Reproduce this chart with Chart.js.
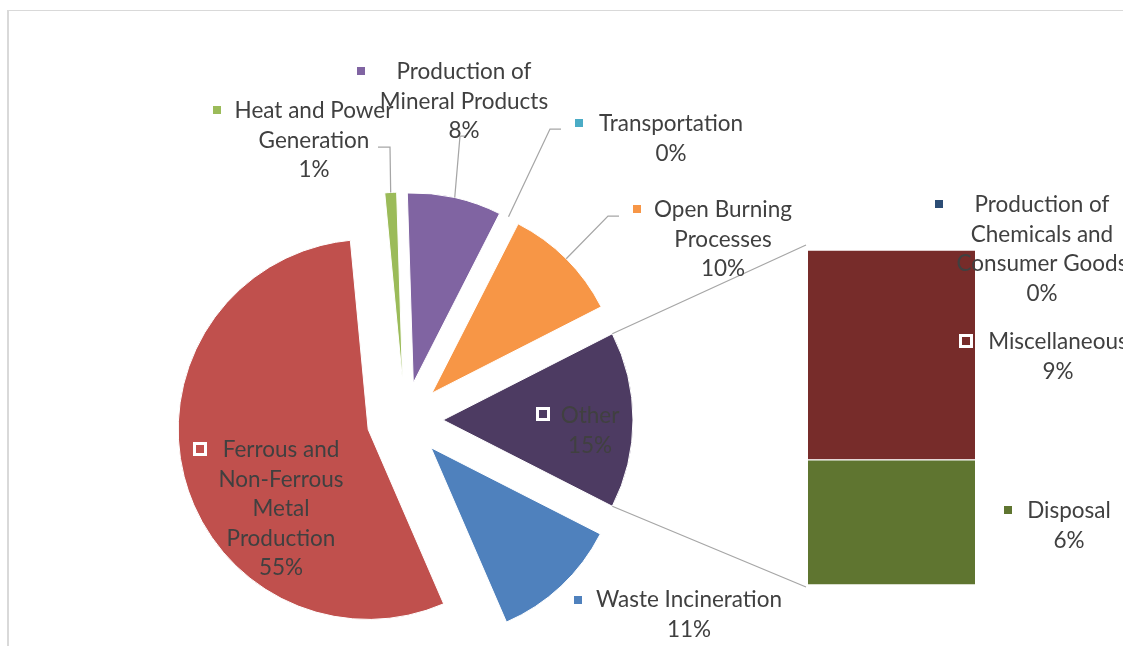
<!DOCTYPE html>
<html>
<head>
<meta charset="utf-8">
<script src="https://cdn.jsdelivr.net/npm/chart.js@4.4.0/dist/chart.umd.min.js"></script>
<style>
  body { margin: 0; background: #fff; width: 1123px; height: 646px; overflow: hidden; position: relative; }
  #frame { position: absolute; left: 7px; top: 10px; width: 1200px; height: 700px; border-left: 2px solid #d9d9d9; border-top: 1px solid #d9d9d9; }
  #bar { position: absolute; left: 808px; top: 250px; }
  #pie { position: absolute; left: 0; top: 0; }
</style>
</head>
<body>
<div id="frame"></div>
<canvas id="bar" width="167" height="335"></canvas>
<canvas id="pie" width="1123" height="646"></canvas>
<script>
// pie slices, clockwise from the Waste Incineration slice
const categories = ['Waste Incineration', 'Ferrous and Non-Ferrous Metal Production', 'Heat and Power Generation',
  'Production of Mineral Products', 'Transportation', 'Open Burning Processes'];
const values = [11, 55, 1, 8, 0, 10];
const pieColors = ['#4F81BD', '#C0504D', '#9BBB59', '#8064A2', '#4BACC6', '#F79646', '#4D3B62'];

// breakdown of "Other" (bar, bottom to top)
const otherCategories = ['Disposal', 'Miscellaneous', 'Production of Chemicals and Consumer Goods'];
const otherValues = [5.6, 9.4, 0];
const otherColors = ['#5F7530', '#772C2A', '#2C4D75'];

const otherTotal = otherValues.reduce((a, b) => a + b, 0);
const pieLabels = categories.concat(['Other']);
const pieData = values.concat([otherTotal]);
const total = pieData.reduce((a, b) => a + b, 0);

// where each data label sits (wrap = words per line)
const labelLayout = {
  'Waste Incineration': { cx: 689, y: 600, mx: 578, my: 600, wrap: [2] },
  'Ferrous and Non-Ferrous Metal Production': { cx: 281, y: 450, mx: 200, my: 449, wrap: [2, 1, 1, 1] },
  'Heat and Power Generation': { cx: 314, y: 111, mx: 217, my: 110, wrap: [3, 1], leader: [[378, 147], [390, 147]] },
  'Production of Mineral Products': { cx: 464, y: 72, mx: 361, my: 71, wrap: [2, 2], leader: [[466, 136], [460, 136]] },
  'Transportation': { cx: 671, y: 124, mx: 579, my: 123, wrap: [1], leader: [[561, 129], [550, 129]] },
  'Open Burning Processes': { cx: 723, y: 210, mx: 637, my: 209, wrap: [2, 1], leader: [[619, 216], [608, 216]] },
  'Other': { cx: 590, y: 416, mx: 543, my: 414, wrap: [1] },
  'Production of Chemicals and Consumer Goods': { cx: 1042, y: 205, mx: 939, my: 204, wrap: [2, 2, 2] },
  'Miscellaneous': { cx: 1058, y: 342, mx: 966, my: 341, wrap: [1] },
  'Disposal': { cx: 1069, y: 511, mx: 1008, my: 510, wrap: [1] }
};

const barChart = new Chart(document.getElementById('bar'), {
  type: 'bar',
  data: {
    labels: ['Other'],
    datasets: otherCategories.map((c, i) => ({
      label: c,
      data: [otherValues[i]],
      backgroundColor: otherColors[i],
      borderColor: '#fff',
      borderWidth: { top: 1, bottom: 1, left: 0, right: 0 },
      borderSkipped: false,
      barPercentage: 1,
      categoryPercentage: 1
    }))
  },
  options: {
    responsive: false,
    animation: false,
    devicePixelRatio: 1,
    layout: { padding: 0 },
    scales: {
      x: { display: false, stacked: true },
      y: { display: false, stacked: true, min: 0, max: otherTotal }
    },
    plugins: { legend: { display: false }, tooltip: { enabled: false } }
  }
});

const explodePlugin = {
  id: 'explode',
  beforeDatasetDraw(chart, args) {
    const ctx = chart.ctx;
    args.meta.data.forEach(arc => {
      const mid = (arc.startAngle + arc.endAngle) / 2;
      const d = arc.outerRadius * 0.2;
      ctx.save();
      ctx.translate(Math.cos(mid) * d, Math.sin(mid) * d);
      arc.draw(ctx);
      ctx.restore();
    });
    return false;
  }
};

function edgePoint(arc, angle) {
  const mid = (arc.startAngle + arc.endAngle) / 2;
  const d = arc.outerRadius * 0.2;
  return [arc.x + Math.cos(mid) * d + Math.cos(angle) * arc.outerRadius,
          arc.y + Math.sin(mid) * d + Math.sin(angle) * arc.outerRadius];
}

function drawLabel(ctx, name, value, color) {
  const L = labelLayout[name];
  if (!L) return;
  const words = name.split(' ');
  const lines = [];
  let k = 0;
  L.wrap.forEach(n => { lines.push(words.slice(k, k + n).join(' ')); k += n; });
  lines.push(Math.round(value / total * 100) + '%');
  ctx.fillStyle = '#fff';
  ctx.fillRect(L.mx - 7, L.my - 7, 14, 14);
  ctx.fillStyle = color;
  ctx.fillRect(L.mx - 4, L.my - 4, 8, 8);
  ctx.font = '22.5px Lato';
  ctx.fillStyle = '#404040';
  ctx.textAlign = 'center';
  ctx.textBaseline = 'middle';
  lines.forEach((t, i) => ctx.fillText(t, L.cx, L.y + i * 29.5));
}

const labelPlugin = {
  id: 'labels',
  afterDraw(chart) {
    const ctx = chart.ctx;
    const arcs = chart.getDatasetMeta(0).data;
    ctx.save();
    ctx.strokeStyle = '#A6A6A6';
    ctx.lineWidth = 1.25;

    // leader lines
    pieLabels.forEach((name, i) => {
      const L = labelLayout[name];
      if (!L || !L.leader) return;
      const arc = arcs[i];
      const p = edgePoint(arc, (arc.startAngle + arc.endAngle) / 2);
      ctx.beginPath();
      ctx.moveTo(L.leader[0][0], L.leader[0][1]);
      L.leader.slice(1).forEach(q => ctx.lineTo(q[0], q[1]));
      ctx.lineTo(p[0], p[1]);
      ctx.stroke();
    });

    // series lines from "Other" slice to the bar
    const other = arcs[pieLabels.length - 1];
    const topSeg = barChart.getDatasetMeta(otherValues.length - 1).data[0];
    const botSeg = barChart.getDatasetMeta(0).data[0];
    const bx = 808 + topSeg.x - topSeg.width / 2;
    const p1 = edgePoint(other, other.startAngle);
    const p2 = edgePoint(other, other.endAngle);
    ctx.beginPath();
    ctx.moveTo(p1[0], p1[1]);
    ctx.lineTo(bx - 2, 250 + topSeg.y - 5);
    ctx.moveTo(p2[0], p2[1]);
    ctx.lineTo(bx - 2, 250 + botSeg.base + 2);
    ctx.stroke();

    pieLabels.forEach((name, i) => drawLabel(ctx, name, pieData[i], pieColors[i]));
    otherCategories.forEach((name, i) => drawLabel(ctx, name, otherValues[i], otherColors[i]));
    ctx.restore();
  }
};

new Chart(document.getElementById('pie'), {
  type: 'pie',
  data: {
    labels: pieLabels,
    datasets: [{
      data: pieData,
      backgroundColor: pieColors,
      borderColor: '#fff',
      borderWidth: 1,
      radius: 190
    }]
  },
  options: {
    responsive: false,
    animation: false,
    devicePixelRatio: 1,
    rotation: 117,
    layout: { padding: { left: 0, right: 313, top: 194, bottom: 0 } },
    plugins: { legend: { display: false }, tooltip: { enabled: false } }
  },
  plugins: [explodePlugin, labelPlugin]
});
</script>
</body>
</html>
